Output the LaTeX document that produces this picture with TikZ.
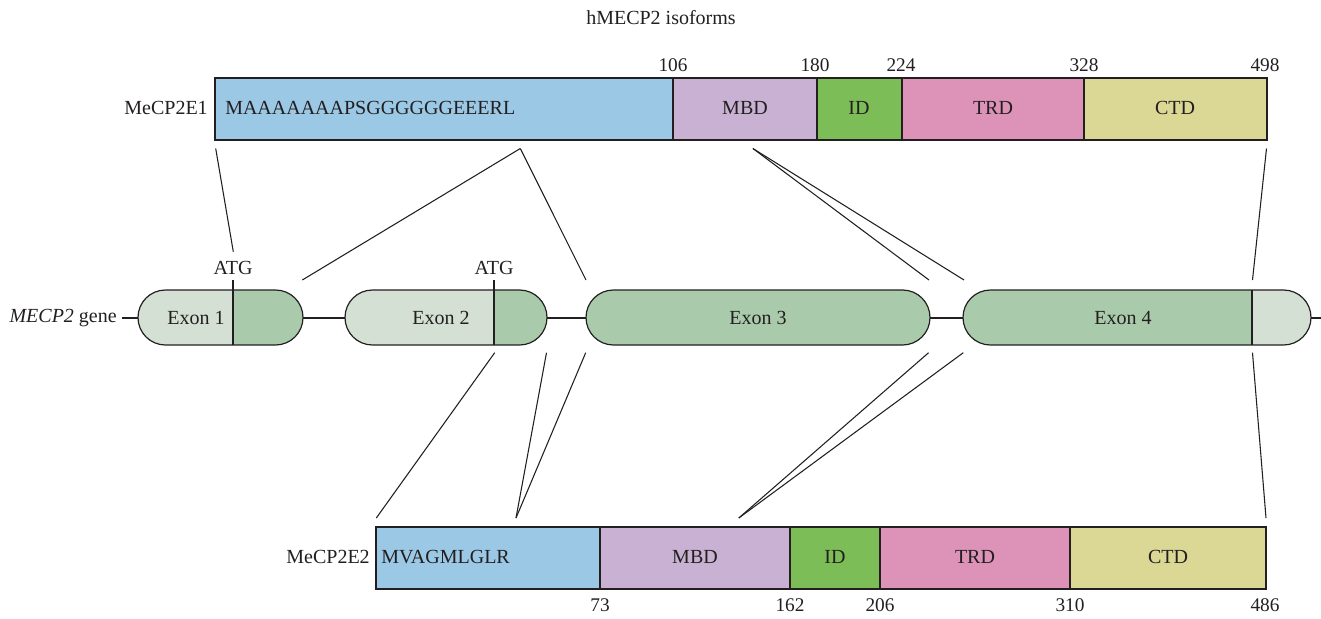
\documentclass[tikz,border=0pt]{standalone}
\usepackage{fontspec}
\setmainfont{Liberation Serif}
\definecolor{blueE}{HTML}{9BC8E5}
\definecolor{purpleE}{HTML}{C8B1D2}
\definecolor{greenE}{HTML}{7CBD57}
\definecolor{pinkE}{HTML}{DD93B8}
\definecolor{yellowE}{HTML}{DBD794}
\definecolor{exlight}{HTML}{D4E0D3}
\definecolor{exdark}{HTML}{AACBAB}
\definecolor{ink}{HTML}{231F20}
\tikzset{
  seg/.style={draw=ink, line width=0.9pt},
  lbl/.style={inner sep=0pt, text=ink, font=\fontsize{15}{18}\selectfont},
  num/.style={inner sep=0pt, text=ink, font=\fontsize{14.5}{17}\selectfont},
  conn/.style={draw=ink, line width=0.8pt},
  exonshape/.style={rounded corners=20.6pt},
}
\begin{document}
\begin{tikzpicture}[x=0.75pt,y=-0.75pt]
\useasboundingbox (0,0) rectangle (1321,618);
% title
\node[lbl] (title) at (661,18) {hMECP2 isoforms};

% ---------- top isoform ----------
\path[seg, fill=blueE]   (215,78) rectangle (673,140);
\path[seg, fill=purpleE] (673,78) rectangle (817,140);
\path[seg, fill=greenE]  (817,78) rectangle (902,140);
\path[seg, fill=pinkE]   (902,78) rectangle (1084,140);
\path[seg, fill=yellowE] (1084,78) rectangle (1267,140);
\node[lbl, anchor=east] (e1name) at (208,108) {MeCP2E1};
\node[lbl, anchor=west] (e1nt) at (225,108) {MAAAAAAAPSGGGGGGEEERL};
\node[lbl] (e1mbd) at (745,108) {MBD};
\node[lbl] (e1id)  at (859,108) {ID};
\node[lbl] (e1trd) at (993,108) {TRD};
\node[lbl] (e1ctd) at (1175,108) {CTD};
\node[num] (n106) at (673,65) {106};
\node[num] (n180) at (815,65) {180};
\node[num] (n224) at (901,65) {224};
\node[num] (n328) at (1084,65) {328};
\node[num] (n498) at (1265,65) {498};

% ---------- gene ----------
\draw[line width=0.9pt, draw=ink] (122,318) -- (1321,318);
\node[lbl, anchor=east] (gene) at (117,318) {\textit{MECP2} gene};
% exon 1
\begin{scope}
  \clip[exonshape] (138,290) rectangle (303,345);
  \fill[exlight] (138,290) rectangle (233,345);
  \fill[exdark] (233,290) rectangle (303,345);
\end{scope}
\draw[seg, exonshape] (138,290) rectangle (303,345);
\draw[seg] (233,280) -- (233,345);
\node[lbl] (ex1) at (196,318) {Exon 1};
\node[lbl] (atg1) at (233,268) {ATG};
% exon 2
\begin{scope}
  \clip[exonshape] (345,290) rectangle (547,345);
  \fill[exlight] (345,290) rectangle (494,345);
  \fill[exdark] (494,290) rectangle (547,345);
\end{scope}
\draw[seg, exonshape] (345,290) rectangle (547,345);
\draw[seg] (494,280) -- (494,345);
\node[lbl] (ex2) at (441,318) {Exon 2};
\node[lbl] (atg2) at (494,268) {ATG};
% exon 3
\draw[seg, fill=exdark, exonshape] (586,290) rectangle (930,345);
\node[lbl] (ex3) at (758,318) {Exon 3};
% exon 4
\begin{scope}
  \clip[exonshape] (963,290) rectangle (1311,345);
  \fill[exdark] (963,290) rectangle (1252,345);
  \fill[exlight] (1252,290) rectangle (1311,345);
\end{scope}
\draw[seg, exonshape] (963,290) rectangle (1311,345);
\draw[seg] (1252,290) -- (1252,345);
\node[lbl] (ex4) at (1123,318) {Exon 4};

% ---------- bottom isoform ----------
\path[seg, fill=blueE]   (376,527) rectangle (600,589);
\path[seg, fill=purpleE] (600,527) rectangle (790,589);
\path[seg, fill=greenE]  (790,527) rectangle (880,589);
\path[seg, fill=pinkE]   (880,527) rectangle (1070,589);
\path[seg, fill=yellowE] (1070,527) rectangle (1266,589);
\node[lbl, anchor=east] (e2name) at (370,557) {MeCP2E2};
\node[lbl, anchor=west] (e2nt) at (381,557) {MVAGMLGLR};
\node[lbl] (e2mbd) at (695,557) {MBD};
\node[lbl] (e2id)  at (835,557) {ID};
\node[lbl] (e2trd) at (975,557) {TRD};
\node[lbl] (e2ctd) at (1168,557) {CTD};
\node[num] (n73)  at (600,605) {73};
\node[num] (n162) at (790,605) {162};
\node[num] (n206) at (880,605) {206};
\node[num] (n310) at (1070,605) {310};
\node[num] (n486) at (1265,605) {486};

% ---------- connector anchors ----------
\coordinate (tA) at (215.7,148.5);
\coordinate (tB) at (520.3,148.5);
\coordinate (tC) at (752.9,148.5);
\coordinate (tD) at (1266.5,148.5);
\coordinate (gA) at (233.3,251.7);
\coordinate (gB) at (302.3,280);
\coordinate (gC) at (586,280);
\coordinate (gD) at (929,280);
\coordinate (gE) at (964,280);
\coordinate (gF) at (1252.5,280);
\coordinate (hA) at (494.7,352.7);
\coordinate (hB) at (546.5,352.7);
\coordinate (hC) at (585.7,352.7);
\coordinate (hD) at (928.6,352.7);
\coordinate (hE) at (963.3,352.7);
\coordinate (hF) at (1252.5,352.7);
\coordinate (bA) at (376.3,518);
\coordinate (bB) at (516,518);
\coordinate (bC) at (738.8,518);
\coordinate (bD) at (1266,518);

\draw[conn] (tA) -- (gA);
\draw[conn] (tB) -- (gB);
\draw[conn] (tB) -- (gC);
\draw[conn] (tC) -- (gD);
\draw[conn] (tC) -- (gE);
\draw[conn] (tD) -- (gF);
\draw[conn] (hA) -- (bA);
\draw[conn] (hB) -- (bB);
\draw[conn] (hC) -- (bB);
\draw[conn] (hD) -- (bC);
\draw[conn] (hE) -- (bC);
\draw[conn] (hF) -- (bD);
\end{tikzpicture}
\end{document}
